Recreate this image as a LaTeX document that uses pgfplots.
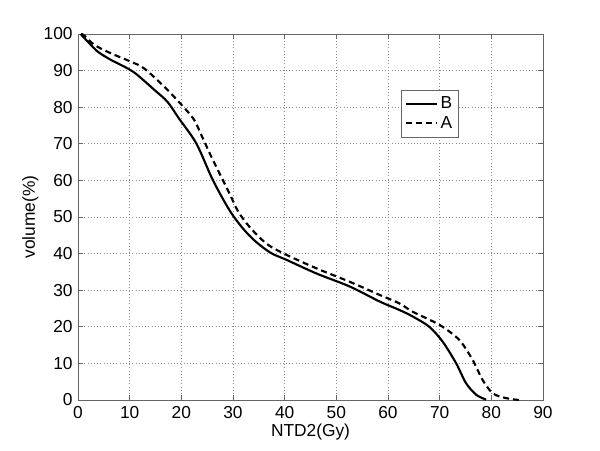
\documentclass[border=0pt]{standalone}
\usepackage{fontspec}
\setmainfont{Liberation Sans}
\usepackage{pgfplots}
\pgfplotsset{compat=1.18}

\begin{document}
\begin{tikzpicture}[x=1pt,y=1pt]
\path[use as bounding box] (-58.5,-37.5) rectangle (391.5,300);
\begin{axis}[
    scale only axis,
    width=348.75pt, height=274.5pt,
    xmin=0, xmax=90, ymin=0, ymax=100,
    xtick={0,10,...,90}, ytick={0,10,...,100},
    tick align=inside, tick pos=both,
    major tick length=4pt,
    axis line style={black!60, line width=0.6pt},
    every tick/.style={black!60, line width=0.6pt},
    grid=major,
    grid style={dotted, black!45, line width=0.5pt},
    font=\fontsize{13}{15}\selectfont,
    /pgf/number format/assume math mode=true,
    tick label style={font=\fontsize{13}{15}\selectfont},
    xticklabel style={yshift=-1pt},
    yticklabel style={xshift=-0.5pt},
    xlabel={NTD2(Gy)}, ylabel={volume(\%)},
    xlabel style={yshift=3pt},
    ylabel style={yshift=-3pt},
    legend style={at={(0.694,0.847)}, anchor=north west,
        draw=black!60, line width=0.6pt, inner xsep=3pt, inner ysep=3pt,
        font=\fontsize{13}{15}\selectfont,
        row sep=0pt},
    legend cell align=left,
    legend image code/.code={\draw[#1] (0pt,0pt) -- (23pt,0pt);},
]
\addplot[black, line width=1.6pt, smooth, tension=0.5] coordinates {
(0.5,100) (1.9,97.9) (3.8,95.2) (6.4,92.9) (9.6,90.6) (11.5,88.8)
(14.8,84.7) (17.3,81.5) (19.5,77) (22.9,70.1) (26.1,60.1) (29.3,51.9)
(31.9,46.9) (34.3,43.4) (37.3,40.2) (40.5,38.2) (46.1,34.6) (52.6,31)
(58.4,26.9) (62.2,24.6) (64.8,22.8) (68,20) (70.6,15.9) (73.2,10)
(75.1,4.6) (77.1,1.4) (79,0.1)
};
\addlegendentry{B}
\addplot[black, line width=1.6pt, dash pattern=on 4.5pt off 3pt, smooth, tension=0.5] coordinates {
(0.6,100) (1.2,99.6) (3.2,97) (6.4,94.7) (10.3,92.4) (12.8,90.6)
(16.7,85.6) (20.4,80.1) (22.5,76.5) (24,72) (26.1,65.6) (29.3,56.5)
(31,51.5) (33.2,47.3) (36.4,42.8) (39.7,40.1) (46.1,36) (52.6,32.3)
(58.4,28.7) (62.2,26.4) (64.8,24.1) (70,20.5) (73.8,16.4) (76.4,10.9)
(78.3,5.5) (80.3,1.8) (82.9,0.5) (85.4,0)
};
\addlegendentry{A}
\end{axis}
\end{tikzpicture}
\end{document}
